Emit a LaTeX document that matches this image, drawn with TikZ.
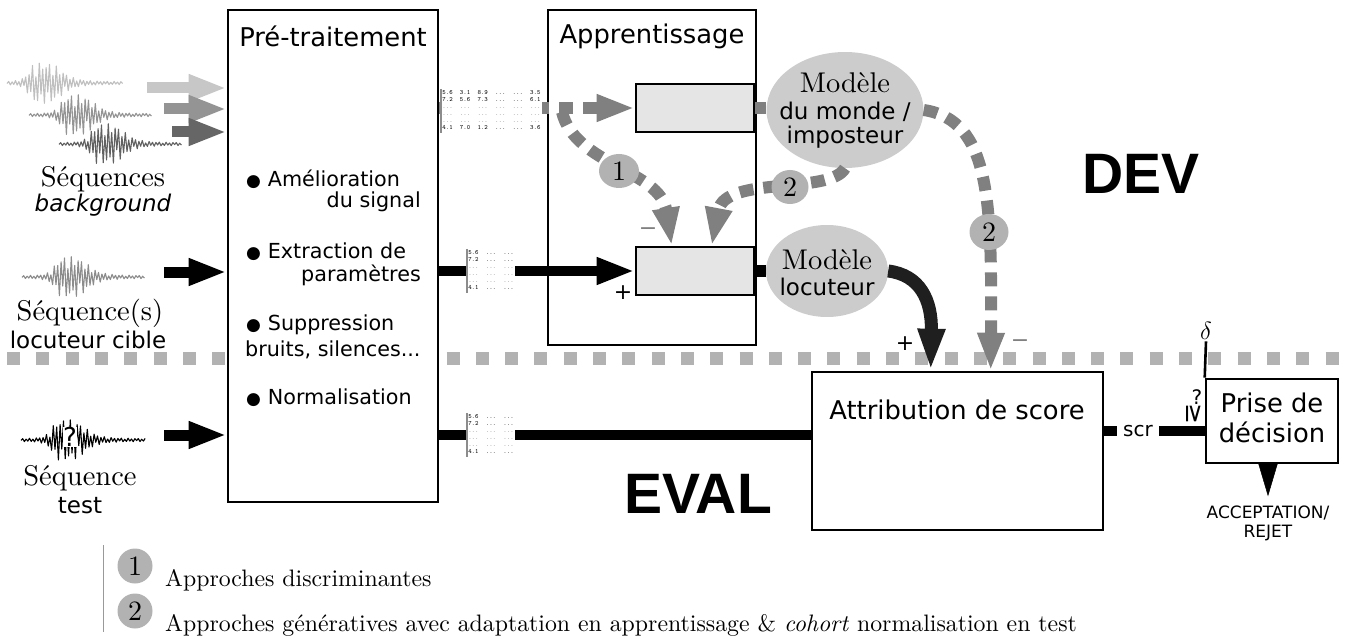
\documentclass[tikz,border=0pt]{standalone}
\usepackage{fontspec}
\setmainfont{lmroman10-regular.otf}[ItalicFont=lmroman10-italic.otf, BoldFont=lmroman10-bold.otf]
\newfontfamily\dv{DejaVu Sans}
\newfontfamily\lib{Liberation Sans}
\usetikzlibrary{arrows.meta,shapes.geometric,calc}

\pgfmathdeclarefunction{wenv}{2}{%
  \begingroup
  \pgfmathparse{ifthenelse(#1<0,#1/12,#1/24)}\let\uu\pgfmathresult
  \pgfmathparse{#2/(1+\uu*\uu*\uu*\uu)+1.4}%
  \pgfmathsmuggle\pgfmathresult
  \endgroup}

% #1 x0, #2 number of steps, #3 y0, #4 burst centre, #5 amplitude, #6 colour
\newcommand\wavef[6]{%
  \draw[#6, line width=1.1pt, line join=round] plot[domain=0:#2, samples=#2+1]
    ({#1+\x*1.7}, {#3 + cos(\x*180)*wenv(#1+\x*1.7-#4,#5)*(0.3+0.7*abs(sin(\x*53)))});}

\newcommand\bul{{\fontsize{17}{17}\selectfont ●}\hspace{0.33em}}

\newcommand\mtxbig{\fontsize{6.5}{7}\selectfont\ttfamily\setlength\tabcolsep{3.6pt}%
\begin{tabular}{@{}llllll@{}}
5.6&3.1&8.9&...&...&3.5\\
7.2&5.6&7.3&...&...&6.1\\
\color{black!55}...&\color{black!55}...&\color{black!55}...&\color{black!55}...&\color{black!55}...&\color{black!55}...\\
\color{black!55}...&\color{black!55}...&\color{black!55}...&\color{black!55}...&\color{black!55}...&\color{black!55}...\\
\color{black!55}...&\color{black!55}...&\color{black!55}...&\color{black!55}...&\color{black!55}...&\color{black!55}...\\
4.1&7.0&1.2&...&...&3.6
\end{tabular}}
\newcommand\mtxsmall{\fontsize{6.5}{7}\selectfont\ttfamily\setlength\tabcolsep{3.6pt}%
\begin{tabular}{@{}lll@{}}
5.6&...&...\\
7.2&...&...\\
\color{black!55}...&\color{black!55}...&\color{black!55}...\\
\color{black!55}...&\color{black!55}...&\color{black!55}...\\
\color{black!55}...&\color{black!55}...&\color{black!55}...\\
4.1&...&...
\end{tabular}}

\tikzset{
  box/.style={draw, line width=2.6pt, fill=white, inner sep=0pt},
  inrect/.style={draw, line width=2.6pt, fill=black!10, minimum width=118pt, minimum height=48pt, inner sep=0pt},
  model/.style={ellipse, fill=black!20, inner sep=0pt},
  num/.style={ellipse, fill=black!30, inner sep=0pt, font=\fontsize{28}{28}\selectfont},
  ttl/.style={font=\dv\fontsize{25.8}{30}\selectfont, inner sep=0pt},
  bult/.style={font=\dv\fontsize{20.7}{24}\selectfont, inner sep=0pt},
  lab/.style={font=\dv\fontsize{23}{26}\selectfont, inner sep=0pt},
  ser/.style={font=\fontsize{28.5}{30}\selectfont, inner sep=0pt},
  sgn/.style={font=\dv\fontsize{22}{22}\selectfont, inner sep=0pt},
  leg/.style={font=\fontsize{23.8}{26}\selectfont, inner sep=0pt},
  big/.style={font=\lib\bfseries\fontsize{57}{57}\selectfont, inner sep=0pt},
  mtx/.style={fill=white, inner sep=1pt},
  barrow/.style={line width=11pt, -{Triangle[length=38pt,width=25pt]}},
  garrow/.style={line width=12pt, black!50, dash pattern=on 14pt off 10pt, -{Triangle[length=38pt,width=25pt]}},
  bcurve/.style={line width=13pt, black!88, -{Triangle[length=42pt,width=25pt]}},
}

\begin{document}
\begin{tikzpicture}[x=1pt,y=-1pt]
\useasboundingbox (0,0) rectangle (1352,639);

% DEV / EVAL separator
\draw[line width=13pt, black!30, dash pattern=on 13pt off 16.3pt] (7,358) -- (1352,358);

% waveforms
\wavef{7}{68}{83}{40}{19}{black!25}
\wavef{29}{72}{115}{72}{19}{black!42}
\wavef{59}{72}{144}{102}{19}{black!62}
\wavef{22}{72}{277}{66}{19}{black!45}
\wavef{21}{73}{440}{63}{19}{black}
\node[font=\dv\fontsize{26}{26}\selectfont, fill=white, inner sep=0.3pt] at (70,437) {?};

% boxes
\node[box, minimum width=210pt, minimum height=492pt] (pre) at (333,256) {};
\node[box, minimum width=208pt, minimum height=335pt] (app) at (652,177.5) {};
\node[inrect] (r1) at (695,108) {};
\node[inrect] (r2) at (695,271) {};
\node[model, minimum width=157pt, minimum height=116pt] (e1) at (845,110) {};
\node[model, minimum width=122pt, minimum height=92pt] (e2) at (827,271) {};
\node[box, minimum width=291pt, minimum height=158pt] (attr) at (957.5,451) {};
\node[box, minimum width=132pt, minimum height=84pt] (prise) at (1272,421) {};

% titles
\node[ttl] (tpre) at (333,36) {Pré-traitement};
\node[ttl] (tapp) at (652,36) {Apprentissage};
\node[ttl] (tattr) at (957,410) {Attribution de score};
\node[ttl, align=center] (tprise) at (1272,418) {Prise de\\décision};

% bullets
\node[bult, anchor=west] (b1) at (246,179) {\bul Amélioration};
\node[bult, anchor=east] (b1b) at (421,202) {du signal};
\node[bult, anchor=west] (b2) at (246,252) {\bul Extraction de};
\node[bult, anchor=east] (b2b) at (421,275) {paramètres};
\node[bult, anchor=west] (b3) at (246,325) {\bul Suppression};
\node[bult, anchor=west] (b3b) at (245,350) {bruits, silences...};
\node[bult, anchor=west] (b4) at (246,398) {\bul Normalisation};

% left labels
\node[ser] (l1) at (103,179) {Séquences};
\node[lab] (l1b) at (103,205) {\itshape background};
\node[ser] (l2) at (90,313) {Séquence(s)};
\node[lab] (l2b) at (88,340) {locuteur cible};
\node[ser] (l3) at (80,478) {Séquence};
\node[lab] (l3b) at (80,506) {test};

% model texts
\node[ser] (e1t1) at (845,83) {Modèle};
\node[lab] (e1t2) at (845,112) {du monde /};
\node[lab] (e1t3) at (845,137) {imposteur};
\node[ser] (e2t1) at (827,260) {Modèle};
\node[lab] (e2t2) at (827,287) {locuteur};

% input arrows
\coordinate (bgA) at (147,88);
\coordinate (bgB) at (164,109);
\coordinate (bgC) at (172,132);
\coordinate (tgtA) at (164,272);
\coordinate (tstA) at (164,435);
\draw[barrow, black!22] (bgA) -- (bgA -| pre.west);
\draw[barrow, black!42] (bgB) -- (bgB -| pre.west);
\draw[barrow, black!60] (bgC) -- (bgC -| pre.west);
\draw[barrow] (tgtA) -- (tgtA -| pre.west);
\draw[barrow] (tstA) -- (tstA -| pre.west);

% parameter flows
\draw[garrow] (pre.east |- r1.west) -- (r1.west);
\draw[barrow, line width=10pt] (pre.east |- r2.west) -- (r2.west);
\draw[line width=10pt] (pre.east |- tstA) -- (attr.west |- tstA);
\node[mtx] (m1) at (491.5,111) {\mtxbig};
\draw[black!45, line width=1.5pt] (m1.north west) -- (m1.south west);
\node[mtx] (m2) at (491,271) {\mtxsmall};
\draw[black!45, line width=1.5pt] (m2.north west) -- (m2.south west);
\node[mtx] (m3) at (491,435) {\mtxsmall};
\draw[black!45, line width=1.5pt] (m3.north west) -- (m3.south west);

% rect -> model
\draw[line width=12pt, black!50] (r1.east) -- (r1.east -| e1.west);
\draw[line width=12pt] (r2.east) -- (r2.east -| e2.west);

% curves
\coordinate (split) at (562,112);
\draw[garrow] (split) .. controls (575,165) and (660,170) .. ($(r2.north west)+(37,0)$);
\draw[garrow] (e1.south) .. controls (830,195) and (725,175) .. ($(r2.north west)+(77,0)$);
\draw[garrow] (e1.east) .. controls (990,120) and (992,200) .. ($(attr.north west)+(180,0)$);
\draw[bcurve] (e2.east) .. controls (920,275) and (932,300) .. ($(attr.north west)+(120,0)$);

% number markers
\node[num, minimum width=40pt, minimum height=34pt] (n1) at (619,171) {1};
\node[num, minimum width=37pt, minimum height=34pt] (n2a) at (790,187) {2};
\node[num, minimum width=39pt, minimum height=36pt] (n2b) at (989,232) {2};

% signs
\node[sgn, black!50] (s1) at (648,232) {−};
\node[sgn] (s2) at (623,293) {+};
\node[sgn] (s3) at (905,344) {+};
\node[sgn, black!50] (s4) at (1020,344) {−};

% decision
\node[inner sep=1.5pt, font=\fontsize{26}{26}\selectfont] (delta) at (1206,331) {$\delta$};
\draw[line width=2.6pt] (prise.north west) -- (delta.south);
\node[font=\dv\fontsize{20}{20}\selectfont, inner xsep=6pt, inner ysep=0pt] (scr) at (1138,431) {scr};
\draw[line width=10pt] (attr.east |- scr) -- (scr.west);
\draw[line width=10pt] (scr.east) -- (prise.west |- scr);
\node[font=\dv\fontsize{25}{25}\selectfont, inner sep=0pt] (geq) at (1194,414) {\rotatebox{-90}{≥}};
\node[font=\dv\fontsize{20}{20}\selectfont, inner sep=0pt] (qm) at (1197,397) {?};
\node[font=\dv\fontsize{17}{19}\selectfont, align=center, inner sep=0pt] (acc) at (1268,523) {ACCEPTATION/\\REJET};
\draw[line width=0.5pt, -{Triangle[length=34pt,width=20pt]}, shorten >=9pt] (acc.north |- prise.south) -- (acc.north);

% DEV / EVAL
\node[big] (dev) at (1141,174) {DEV};
\node[big] (eval) at (698,494) {EVAL};

% legend
\draw[black!40, line width=0.8pt] (103,545) -- (103,632);
\node[num, minimum width=35pt, minimum height=35pt] (k1) at (135,566) {1};
\node[leg, anchor=west] (k1t) at (165,580) {Approches discriminantes};
\node[num, minimum width=35pt, minimum height=35pt] (k2) at (135,611) {2};
\node[leg, anchor=west] (k2t) at (165,625) {Approches génératives avec adaptation en apprentissage \& \textit{cohort} normalisation en test};
\end{tikzpicture}
\end{document}
